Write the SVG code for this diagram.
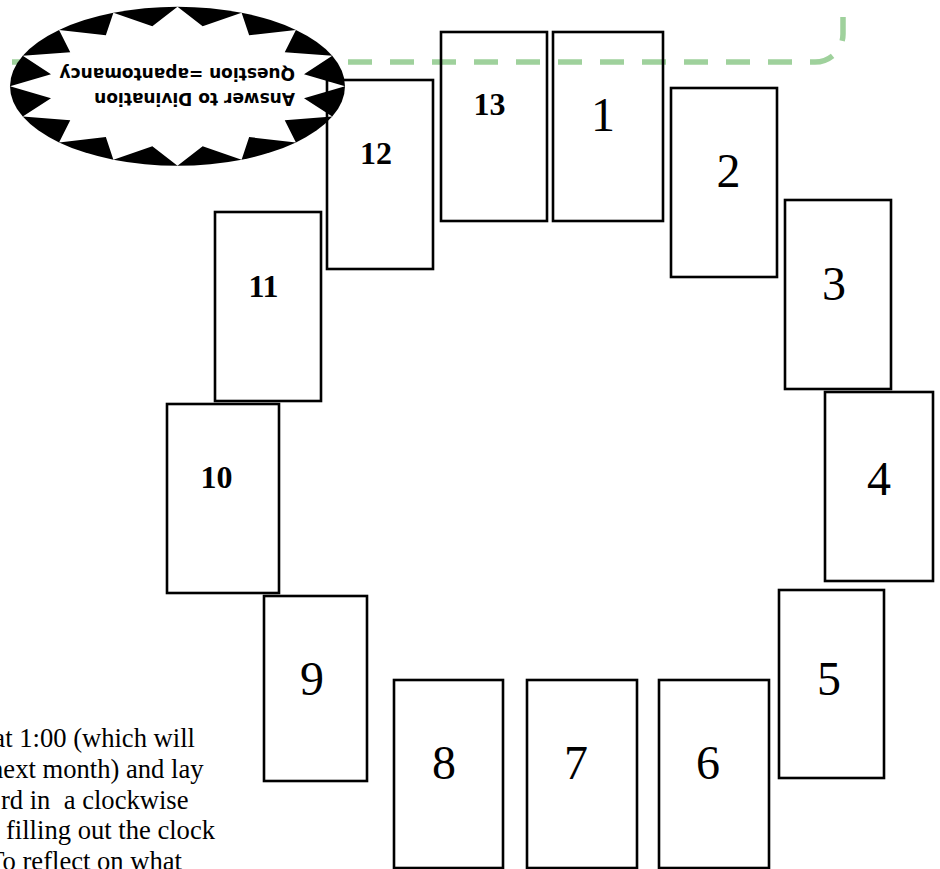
<svg xmlns="http://www.w3.org/2000/svg" width="940" height="869" viewBox="0 0 940 869">
  <style>
    .card { fill: none; stroke: #000; stroke-width: 2.6; }
    .num { font-family: "Liberation Serif", "Times New Roman", serif; font-size: 48px; fill: #000; text-anchor: middle; }
    .numb { font-family: "Liberation Serif", "Times New Roman", serif; font-size: 32px; font-weight: bold; fill: #000; text-anchor: middle; }
    .burst { font-family: "DejaVu Sans", Verdana, sans-serif; font-size: 17px; font-weight: bold; fill: #000; }
    .note { font-family: "Liberation Serif", "Times New Roman", serif; font-size: 26.6px; fill: #000; text-anchor: end; }
    .dash { fill: none; stroke: #9fd19c; stroke-width: 5.5; stroke-dasharray: 24 18; }
  </style>

  <rect x="0" y="0" width="940" height="869" fill="#ffffff"/>

  <g id="connectors">
    <path class="dash" d="M 12 62 H 815 A 28 28 0 0 0 843 34 V -6"/>
  </g>

  <g id="burst">
    <ellipse cx="177.5" cy="86.2" rx="167.5" ry="79.5" fill="#000"/>
    <polygon fill="#fff" points="345,86.2 304,74.26 332.25,55.78 284.74,52.2 295.94,29.98 249.16,35.31 241.6,12.75 202.66,26.18 177.5,6.7 152.34,26.18 113.4,12.75 105.84,35.31 59.06,29.98 70.26,52.2 22.75,55.78 51,74.26 10,86.2 51,98.14 22.75,116.62 70.26,120.2 59.06,142.42 105.84,137.09 113.4,159.65 152.34,146.22 177.5,165.7 202.66,146.22 241.6,159.65 249.16,137.09 295.94,142.42 284.74,120.2 332.25,116.62 304,98.14"/>
    <g transform="rotate(180 177.5 86.2)">
      <text class="burst" x="60" y="79.4">Answer to Divination</text>
      <text class="burst" x="60" y="104.4">Question =apantomancy</text>
    </g>
  </g>

  <g id="card1"><rect class="card" x="553" y="32" width="110" height="189"/><text class="num" x="603" y="131">1</text></g>
  <g id="card2"><rect class="card" x="671" y="88" width="106" height="189"/><text class="num" x="728.5" y="187">2</text></g>
  <g id="card3"><rect class="card" x="785" y="200" width="106" height="189"/><text class="num" x="834" y="299.5">3</text></g>
  <g id="card4"><rect class="card" x="825" y="392" width="108" height="189"/><text class="num" x="879" y="495">4</text></g>
  <g id="card5"><rect class="card" x="779" y="590" width="105" height="188"/><text class="num" x="829" y="695">5</text></g>
  <g id="card6"><rect class="card" x="659" y="680" width="110" height="188"/><text class="num" x="708" y="779">6</text></g>
  <g id="card7"><rect class="card" x="527" y="680" width="110" height="188"/><text class="num" x="576" y="779">7</text></g>
  <g id="card8"><rect class="card" x="394" y="680" width="109" height="188"/><text class="num" x="444" y="779">8</text></g>
  <g id="card9"><rect class="card" x="264" y="596" width="103" height="185"/><text class="num" x="312" y="695">9</text></g>
  <g id="card10"><rect class="card" x="167" y="404" width="112" height="189"/><text class="numb" x="216.5" y="488">10</text></g>
  <g id="card11"><rect class="card" x="215" y="212" width="106" height="189"/><text class="numb" x="263.5" y="296.5">11</text></g>
  <g id="card12"><rect class="card" x="327" y="80" width="106" height="189"/><text class="numb" x="376" y="163.5">12</text></g>
  <g id="card13"><rect class="card" x="441" y="32" width="106" height="189"/><text class="numb" x="489.5" y="115">13</text></g>

  <g id="note">
    <text class="note" x="195" y="747">at 1:00 (which will</text>
    <text class="note" x="203.5" y="777.75">next month) and lay</text>
    <text class="note" x="188.5" y="808.5" xml:space="preserve">rd in  a clockwise</text>
    <text class="note" x="215" y="839.25">filling out the clock</text>
    <text class="note" x="182" y="870">To reflect on what</text>
  </g>
</svg>
